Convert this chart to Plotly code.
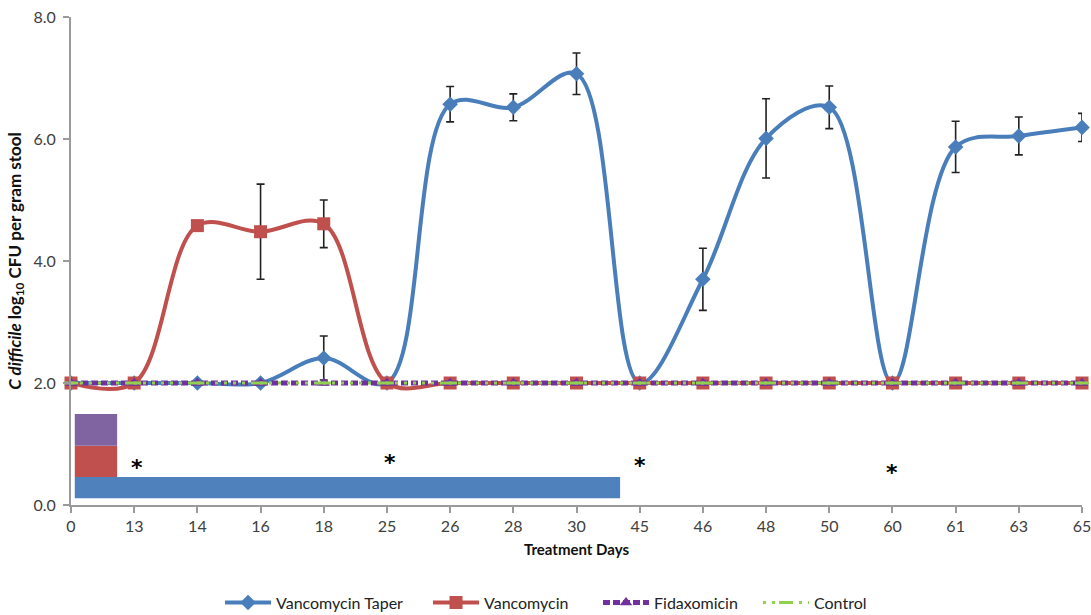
import plotly.graph_objects as go

days = ["0", "13", "14", "16", "18", "25", "26", "28", "30", "45", "46", "48", "50", "60", "61", "63", "65"]

taper = [2.0, 2.0, 2.0, 2.0, 2.41, 2.0, 6.57, 6.52, 7.07, 2.0, 3.70, 6.01, 6.52, 2.0, 5.87, 6.05, 6.19]
taper_err = [None, None, None, None, 0.36, None, 0.29, 0.22, 0.34, None, 0.51, 0.65, 0.35, None, 0.42, 0.31, 0.23]

vanco = [2.0, 2.0, 4.58, 4.48, 4.61, 2.0, 2.0, 2.0, 2.0, 2.0, 2.0, 2.0, 2.0, 2.0, 2.0, 2.0, 2.0]
vanco_err = [None, None, None, 0.78, 0.39, None, None, None, None, None, None, None, None, None, None, None, None]

fidax = [2.0] * 17
control = [2.0] * 17

# treatment duration bars (category-index start/end, value bottom/top, colour)
treat_names = ["Vancomycin Taper", "Vancomycin", "Fidaxomicin"]
treat_x0 = [0.06, 0.06, 0.06]
treat_x1 = [8.69, 0.73, 0.73]
treat_y0 = [0.11, 0.46, 0.97]
treat_y1 = [0.46, 0.97, 1.49]
treat_colors = ["#4F81BD", "#C0504D", "#8064A2"]

# significance asterisks (category index, value)
star_x = [1.05, 5.05, 9.0, 13.0]
star_y = [0.62, 0.70, 0.64, 0.54]

BLUE = "#4A7EBB"
RED = "#C0504D"
PURPLE = "#7030A0"
GREEN = "#92D050"

font_family = "Lato, 'Open Sans', sans-serif"

fig = go.Figure()

fig.add_trace(go.Scatter(
    x=days, y=taper, name="Vancomycin Taper", mode="lines+markers",
    line=dict(color=BLUE, width=4, shape="spline", smoothing=1.0),
    marker=dict(symbol="diamond", size=12, color=BLUE),
    error_y=dict(type="data", array=[e if e is not None else 0 for e in taper_err],
                 visible=True, color="#222222", thickness=1.6, width=4),
    cliponaxis=False, legendwidth=147,
))
fig.add_trace(go.Scatter(
    x=days, y=vanco, name="Vancomycin", mode="lines+markers",
    line=dict(color=RED, width=4, shape="spline", smoothing=1.0),
    marker=dict(symbol="square", size=13, color=RED),
    error_y=dict(type="data", array=[e if e is not None else 0 for e in vanco_err],
                 visible=True, color="#222222", thickness=1.6, width=4),
    cliponaxis=False, legendwidth=109,
))
fig.add_trace(go.Scatter(
    x=days, y=fidax, name="Fidaxomicin", mode="lines+markers",
    line=dict(color=PURPLE, width=5, dash="7px,3px"),
    marker=dict(symbol="triangle-up", size=11, color=PURPLE),
    cliponaxis=False, legendwidth=99,
))
fig.add_trace(go.Scatter(
    x=days, y=control, name="Control", mode="lines+markers",
    line=dict(color=GREEN, width=3, dash="3px,6px"),
    marker=dict(symbol="line-ew", size=10, color=GREEN, line=dict(color=GREEN, width=3)),
    cliponaxis=False, legendwidth=55,
))

shapes = []
for x0, x1, y0, y1, c in zip(treat_x0, treat_x1, treat_y0, treat_y1, treat_colors):
    shapes.append(dict(type="rect", xref="x", yref="y", x0=x0, x1=x1, y0=y0, y1=y1,
                       fillcolor=c, line=dict(width=0), layer="below"))

annotations = []
for sx, sy in zip(star_x, star_y):
    annotations.append(dict(x=sx, y=sy, xref="x", yref="y", text="<b>*</b>", showarrow=False,
                            font=dict(size=22, color="#000000", family="DejaVu Sans")))

fig.update_layout(
    width=1091, height=615,
    margin=dict(l=71, r=9, t=17, b=110, autoexpand=False),
    paper_bgcolor="white", plot_bgcolor="white",
    font=dict(family=font_family, color="#404040", size=14),
    showlegend=True,
    legend=dict(orientation="h", x=0.1474, xanchor="left", y=-0.2, yanchor="middle",
                font=dict(size=16, color="#222222"), traceorder="normal", itemwidth=46),
    shapes=shapes,
    annotations=annotations,
    xaxis=dict(
        type="category", categoryorder="array", categoryarray=days,
        range=[0, 16], showgrid=False, zeroline=False, automargin=False,
        showline=True, linecolor="#9A9A9A", linewidth=2,
        ticks="outside", ticklen=6, tickcolor="#9A9A9A", tickwidth=2,
        tickfont=dict(size=16, color="#404040"), ticklabeloverflow="allow",
        title=dict(text="<b>Treatment Days</b>", font=dict(size=15, color="#111111"), standoff=10),
    ),
    yaxis=dict(
        range=[0, 8], dtick=2, tickformat=".1f", showgrid=False, zeroline=False, automargin=False,
        showline=True, linecolor="#9A9A9A", linewidth=2,
        ticks="outside", ticklen=6, tickcolor="#9A9A9A", tickwidth=2,
        ticklabelstandoff=4, ticklabeloverflow="allow",
        tickfont=dict(size=16, color="#404040"),
        title=dict(text="<b><i>C difficile</i> log<sub>10</sub> CFU per gram stool</b>",
                   font=dict(size=17, color="#111111"), standoff=8),
    ),
)

# remove the default 8px page margin so the 1091x615 figure fills the window exactly
fig.write_html("out.html", config={"displayModeBar": False},
               post_script="document.body.style.margin='0px';document.body.style.overflow='hidden';")
